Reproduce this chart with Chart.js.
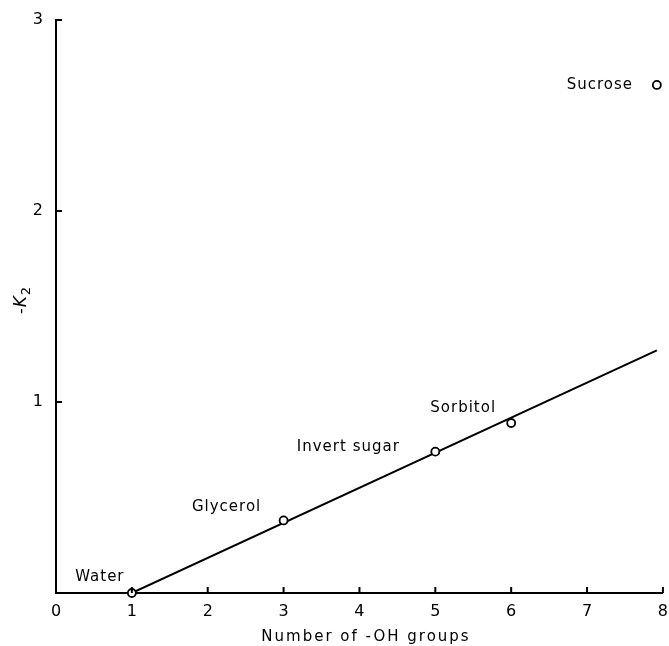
<!DOCTYPE html>
<html>
<head>
<meta charset="utf-8">
<script src="https://cdn.jsdelivr.net/npm/chart.js@4"></script>
<style>
  html, body { margin: 0; padding: 0; background: #fff; }
  #wrap { width: 669px; height: 646px; }
</style>
</head>
<body>
<div id="wrap"><canvas id="myChart" width="669" height="646"></canvas></div>
<script>
// values
const compounds = ['Water', 'Glycerol', 'Invert sugar', 'Sorbitol', 'Sucrose']
const ohGroups = [1, 3, 5, 6, 7.92]
const k2 = [0, 0.38, 0.74, 0.89, 2.66]
// fitted straight line through the points (Sucrose excluded)
const fitX = [1, 7.92]
const fitY = [0, 1.27]
const xTicks = [0, 1, 2, 3, 4, 5, 6, 7, 8]
const yTicks = [0, 1, 2, 3]

// label offsets from each point, in pixels
const labelShift = [[-32, -16], [-57, -13], [-87, -5], [-48, -15], [-57, 0]]

const FONT = 'DejaVu Sans'

const insideTicks = {
  id: 'insideTicks',
  afterDraw(chart) {
    const ctx = chart.ctx
    const x = chart.scales.x
    const y = chart.scales.y
    ctx.save()
    ctx.strokeStyle = '#000'
    ctx.lineWidth = 2
    ctx.beginPath()
    xTicks.forEach(v => {
      if (v === 0) return
      const px = x.getPixelForValue(v)
      ctx.moveTo(px, y.bottom)
      ctx.lineTo(px, y.bottom - 6)
    })
    yTicks.forEach(v => {
      if (v === 0) return
      const py = y.getPixelForValue(v)
      ctx.moveTo(x.left, py)
      ctx.lineTo(x.left + 6, py)
    })
    ctx.stroke()

    // point labels
    ctx.fillStyle = '#000'
    ctx.letterSpacing = '1px'
    ctx.font = '15px "' + FONT + '"'
    ctx.textAlign = 'center'
    ctx.textBaseline = 'middle'
    compounds.forEach((name, i) => {
      const px = x.getPixelForValue(ohGroups[i]) + labelShift[i][0]
      const py = y.getPixelForValue(k2[i]) + labelShift[i][1]
      ctx.fillText(name, px, py)
    })

    // x title
    ctx.letterSpacing = '2px'
    ctx.fillText('Number of -OH groups', 366, 637)

    // y title: -K2 with italic K and subscript
    ctx.letterSpacing = '1px'
    ctx.translate(20, 300)
    ctx.rotate(-Math.PI / 2)
    ctx.textAlign = 'left'
    ctx.textBaseline = 'alphabetic'
    const parts = [['-', '16px "' + FONT + '"', 0], ['K', 'italic 17px "' + FONT + '"', 0], ['2', '13px "' + FONT + '"', 4]]
    let w = 0
    parts.forEach(p => { ctx.font = p[1]; w += ctx.measureText(p[0]).width })
    let cx = -w / 2
    parts.forEach(p => {
      ctx.font = p[1]
      ctx.fillText(p[0], cx, 6 + p[2])
      cx += ctx.measureText(p[0]).width
    })
    ctx.restore()
  }
}

const ctx = document.getElementById('myChart')
const myChart = new Chart(ctx, {
  type: 'scatter',
  data: {
    datasets: [
      {
        // fitted line
        type: 'line',
        data: fitX.map((v, i) => ({ x: v, y: fitY[i] })),
        borderColor: '#000',
        borderWidth: 2,
        pointRadius: 0,
        fill: false,
        order: 2
      },
      {
        data: ohGroups.map((v, i) => ({ x: v, y: k2[i] })),
        pointRadius: 4,
        pointBorderWidth: 1.8,
        pointBorderColor: '#000',
        pointBackgroundColor: '#fff',
        clip: false,
        order: 1
      }
    ]
  },
  options: {
    responsive: false,
    maintainAspectRatio: false,
    animation: false,
    layout: { padding: { top: 20, right: 6, left: 0, bottom: 0 } },
    plugins: { legend: { display: false }, tooltip: { enabled: false } },
    scales: {
      x: {
        type: 'linear',
        min: 0,
        max: 8,
        afterBuildTicks: s => { s.ticks = xTicks.map(v => ({ value: v })) },
        afterFit: s => { s.height = 53 },
        grid: { display: false },
        border: { display: true, color: '#000', width: 2 },
        ticks: { color: '#000', padding: 1, font: { family: FONT, size: 16 } }
      },
      y: {
        type: 'linear',
        min: 0,
        max: 3,
        afterBuildTicks: s => { s.ticks = yTicks.map(v => ({ value: v })) },
        afterFit: s => { s.width = 56 },
        grid: { display: false },
        border: { display: true, color: '#000', width: 2 },
        ticks: {
          color: '#000',
          padding: 5,
          font: { family: FONT, size: 16 },
          callback: v => (v === 0 ? '' : v)
        }
      }
    }
  },
  plugins: [insideTicks]
})
</script>
</body>
</html>
